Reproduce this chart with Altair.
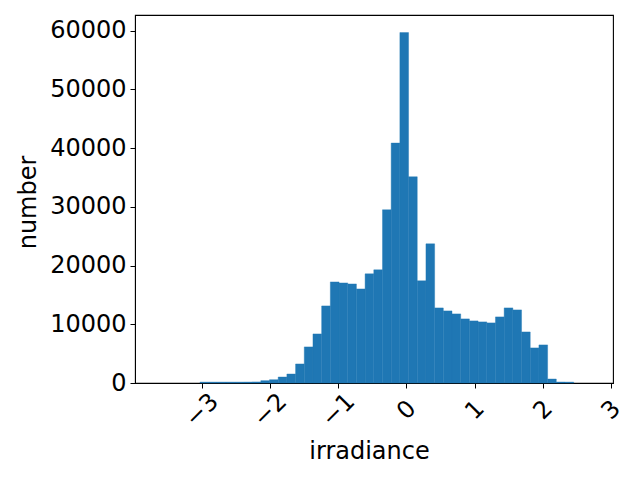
import altair as alt
import pandas as pd

# Histogram: 50 bins
bin_start = -3.663
bin_width = 0.1274
counts = [1, 0, 0, 0, 0, 150, 150, 150, 150, 150, 160, 180,
          400, 560, 1020, 1530, 3240, 6140, 8350, 13120, 17210, 17040,
          16870, 16020, 18580, 19260, 29490, 40850, 59650, 35110, 17390,
          23690, 12780, 12270, 11760, 10910, 10570, 10400, 10230, 11250,
          12780, 12440, 8690, 5970, 6480, 680, 170, 150, 0, 1]

x_ticks = [-3, -2, -1, 0, 1, 2, 3]
y_ticks = [0, 10000, 20000, 30000, 40000, 50000, 60000]

lefts = [bin_start + i * bin_width for i in range(len(counts))]
rights = [l + bin_width for l in lefts]
df = pd.DataFrame({"left": lefts, "right": rights, "count": counts})

FONT = "DejaVu Sans"
FS = 24

chart = alt.Chart(df).transform_filter(
    alt.datum.count > 20
).mark_rect(color="#1f77b4", stroke="#1f77b4", strokeWidth=0.4).encode(
    x=alt.X("left:Q",
            scale=alt.Scale(domain=[-3.9785, 3.0285], nice=False, zero=False),
            axis=alt.Axis(values=x_ticks, title="irradiance", labelAngle=-45,
                          labelAlign="center", labelBaseline="middle",
                          labelPadding=22, tickSize=5, grid=False,
                          domainColor="black", tickColor="black",
                          labelFontSize=FS, titleFontSize=FS, labelFont=FONT,
                          titleFont=FONT, labelColor="black", titleColor="black",
                          titleFontWeight="normal", titleX=234, titleY=68,
                          titleAlign="center", titleBaseline="middle")),
    x2="right:Q",
    y=alt.Y("count:Q",
            scale=alt.Scale(domain=[0, 62650], nice=False),
            axis=alt.Axis(values=y_ticks, title="number", format="d", tickSize=5,
                          labelPadding=4, grid=False, domainColor="black",
                          tickColor="black", labelFontSize=FS, titleFontSize=FS,
                          labelFont=FONT, titleFont=FONT, labelColor="black",
                          titleColor="black", titleFontWeight="normal",
                          titleX=-107, titleY=187, titleAngle=-90,
                          titleAlign="center", titleBaseline="middle")),
    y2=alt.datum(0),
).properties(
    width=478, height=368,
    autosize=alt.AutoSizeParams(type="none"),
    padding={"left": 127, "top": 7, "right": 19, "bottom": 89},
).configure_view(stroke="black", strokeWidth=1.1)

chart.save("out.html", embed_options={"renderer": "svg", "actions": False})
